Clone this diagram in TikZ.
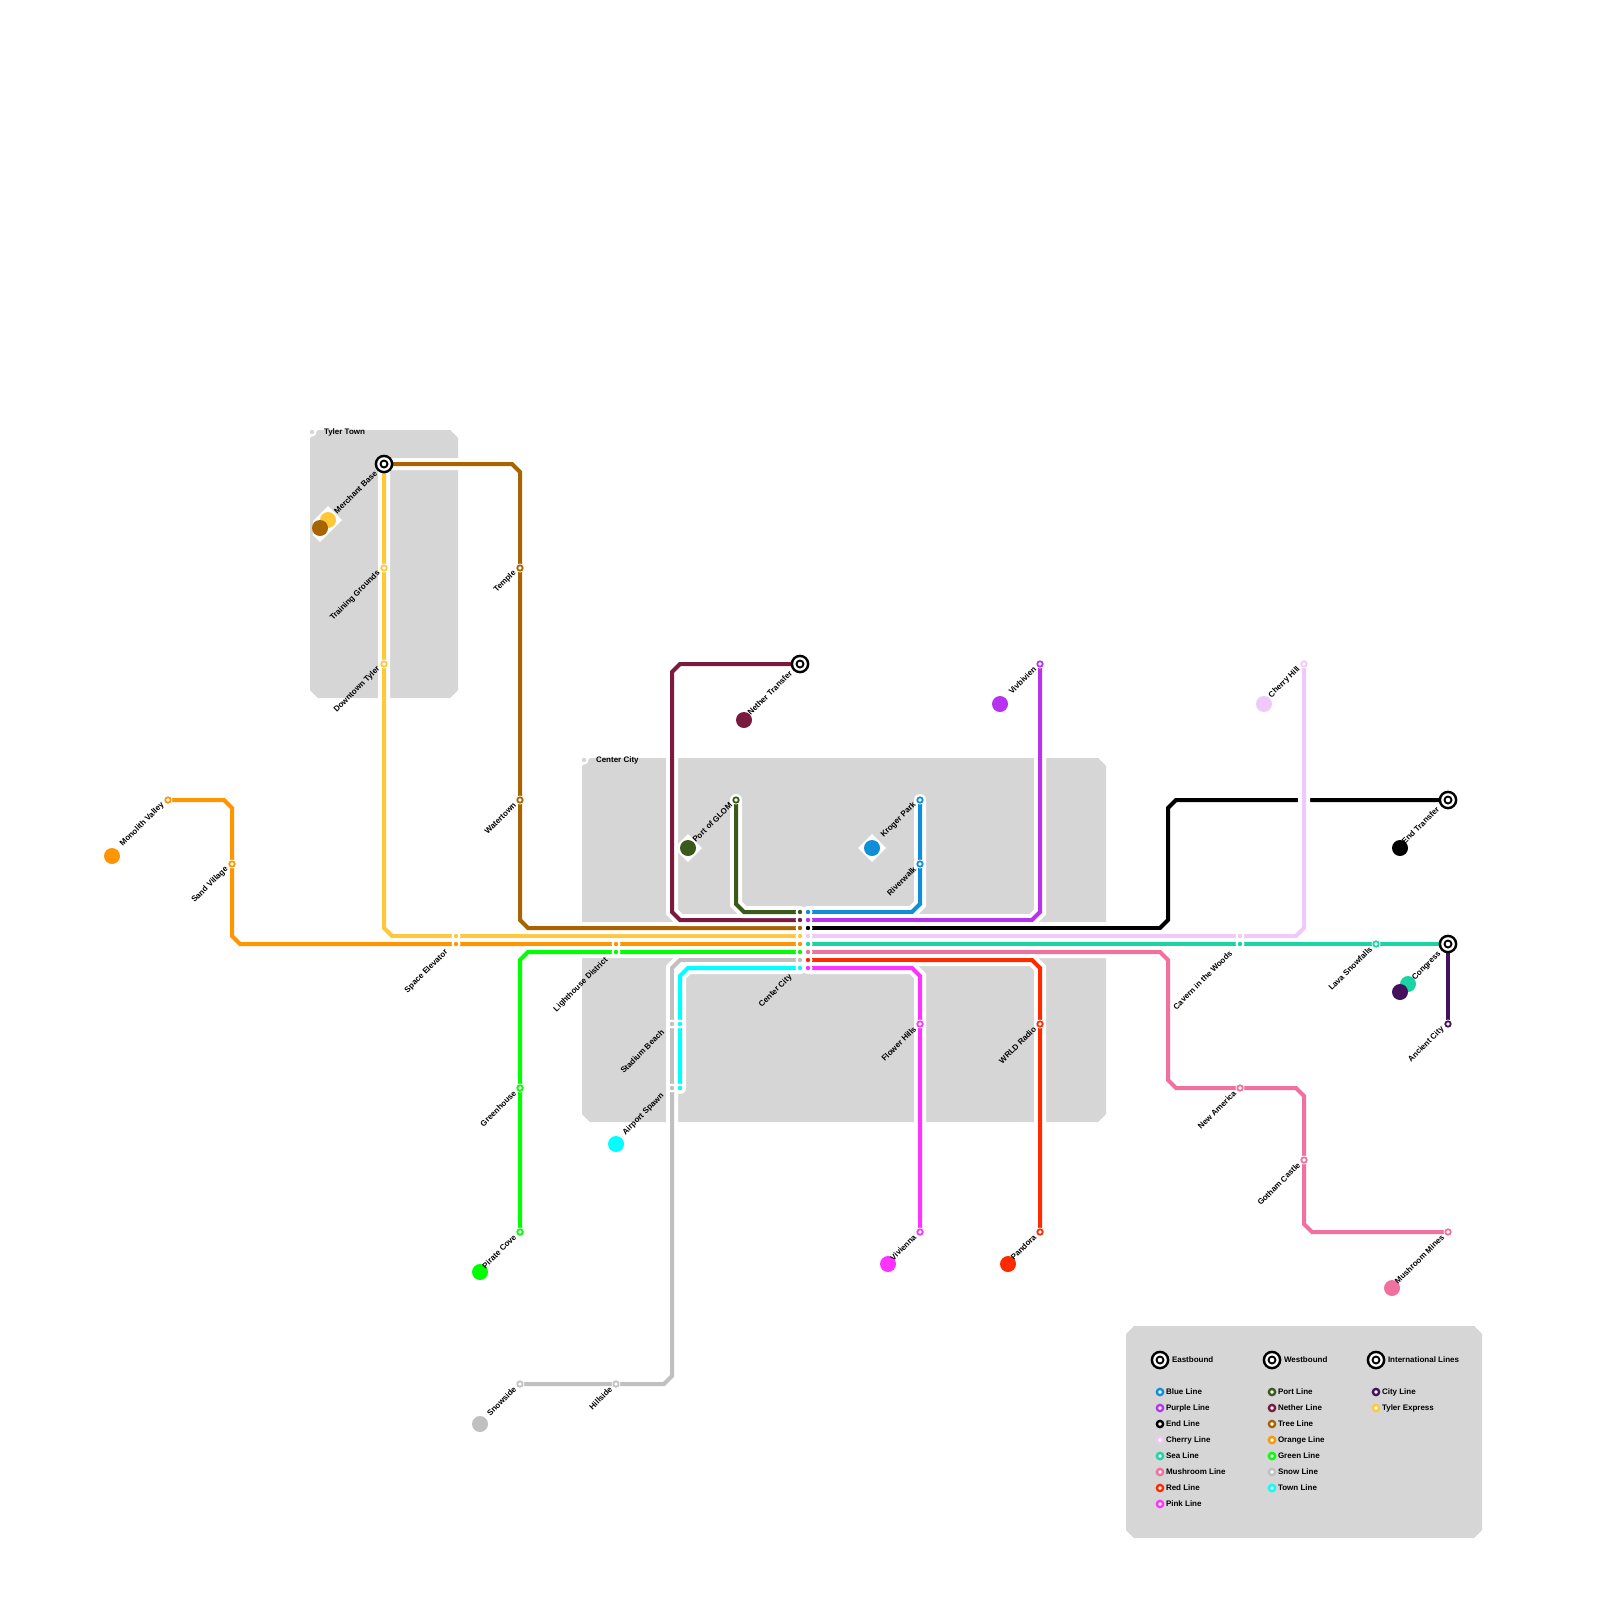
\documentclass[tikz,border=0pt]{standalone}
\usepackage{fontspec}
\setmainfont{Liberation Sans}
\definecolor{cblue}{HTML}{0F8FD8}
\definecolor{cpurple}{HTML}{B833F0}
\definecolor{cend}{HTML}{000000}
\definecolor{ccherry}{HTML}{F0C8FA}
\definecolor{csea}{HTML}{1AD4A4}
\definecolor{cmush}{HTML}{F070A0}
\definecolor{cred}{HTML}{FF2A00}
\definecolor{cpink}{HTML}{FF33FF}
\definecolor{cport}{HTML}{3A5A1C}
\definecolor{cnether}{HTML}{7A1A3E}
\definecolor{ctree}{HTML}{A86400}
\definecolor{ctyler}{HTML}{FFC83A}
\definecolor{corange}{HTML}{FF9500}
\definecolor{cgreen}{HTML}{00FF00}
\definecolor{csnow}{HTML}{C0C0C0}
\definecolor{ctown}{HTML}{00FFFF}
\definecolor{ccity}{HTML}{45115C}
\definecolor{cblock}{HTML}{D6D6D6}
\tikzset{
  block/.style={fill=cblock,draw=none},
  casing/.style={draw=white,line width=12pt,line cap=round,line join=miter},
  metro/.style={draw=#1,line width=4pt,line join=miter},
  halo/.style={circle,fill=white,draw=none,minimum size=9pt,inner sep=0pt,outer sep=0pt},
  ring/.style={circle,fill=white,draw=#1,line width=1.8pt,minimum size=5.4pt,inner sep=0pt,outer sep=0pt},
  core/.style={circle,fill=#1,draw=none,minimum size=4.4pt,inner sep=0pt,outer sep=0pt},
  bigdot/.style={circle,fill=#1,draw=none,minimum size=16pt,inner sep=0pt,outer sep=0pt},
  gem/.style={fill=white,draw=none},
  lab/.style={font=\fontsize{8}{9.6}\selectfont\bfseries,inner sep=0pt,outer sep=0pt,text=black},
  slab/.style={lab,rotate=45,anchor=east},
  legring/.style={circle,fill=white,draw=#1,line width=2.4pt,minimum size=6.2pt,inner sep=0pt,outer sep=0pt},
}
\newcommand{\metroline}[2]{\draw[casing] #2; \draw[metro=#1] #2;}
\newcommand{\stnring}[2]{\node[halo] (h-#1) at (#1) {}; \node[ring=#2] (st-#1) at (#1) {};}
\newcommand{\stncore}[2]{\node[halo] (h-#1) at (#1) {}; \node[core=#2] (st-#1) at (#1) {};}
\newcommand{\bighub}[2]{%
  \node[circle,fill=black,minimum size=18.7pt,inner sep=0pt,outer sep=0pt] (#1) at (#2) {};
  \node[circle,fill=white,minimum size=13.6pt,inner sep=0pt,outer sep=0pt] (#1-a) at (#2) {};
  \node[circle,fill=black,minimum size=9pt,inner sep=0pt,outer sep=0pt] (#1-b) at (#2) {};
  \node[circle,fill=white,minimum size=4.6pt,inner sep=0pt,outer sep=0pt] (#1-c) at (#2) {};}
\newcommand{\slabel}[4]{\node[slab] (lab-#1) at ($(#1)+(#2-2.3,#3)$) {#4};}
\newcommand{\legitem}[4]{\node[legring=#2] (lg-#1) at (#3) {}; \node[lab,anchor=west] (lt-#1) at ($(#3)+(6,0)$) {#4};}
\usetikzlibrary{calc}
\begin{document}
\begin{tikzpicture}[x=1pt,y=-1pt]
\useasboundingbox (0,0) rectangle (1600,1600);
\fill[white] (0,0) rectangle (1600,1600);
% districts
\fill[block] (318,430) -- (450,430) -- (458,438) -- (458,690) -- (450,698) -- (318,698) -- (310,690) -- (310,438) -- cycle;
\fill[block] (590,758) -- (1098,758) -- (1106,766) -- (1106,1114) -- (1098,1122) -- (590,1122) -- (582,1114) -- (582,766) -- cycle;
\fill[block] (1134,1326) -- (1474,1326) -- (1482,1334) -- (1482,1530) -- (1474,1538) -- (1134,1538) -- (1126,1530) -- (1126,1334) -- cycle;
% coordinates of the stations
\coordinate (merchant) at (384,464);
\coordinate (training) at (384,568);
\coordinate (downtown) at (384,664);
\coordinate (temple) at (520,568);
\coordinate (watertown) at (520,800);
\coordinate (monolith) at (168,800);
\coordinate (sand) at (232,864);
\coordinate (spaceT) at (456,936);
\coordinate (spaceO) at (456,944);
\coordinate (lightO) at (616,944);
\coordinate (lightG) at (616,952);
\coordinate (greenhouse) at (520,1088);
\coordinate (pirate) at (520,1232);
\coordinate (snowside) at (520,1384);
\coordinate (hillside) at (616,1384);
\coordinate (stadS) at (672,1024);
\coordinate (stadT) at (680,1024);
\coordinate (airS) at (672,1088);
\coordinate (airT) at (680,1088);
\coordinate (nether) at (800,664);
\coordinate (port) at (736,800);
\coordinate (kroger) at (920,800);
\coordinate (river) at (920,864);
\coordinate (viv) at (1040,664);
\coordinate (endhub) at (1448,800);
\coordinate (cherry) at (1304,664);
\coordinate (cavC) at (1240,936);
\coordinate (cavS) at (1240,944);
\coordinate (lava) at (1376,944);
\coordinate (congress) at (1448,944);
\coordinate (ancient) at (1448,1024);
\coordinate (america) at (1240,1088);
\coordinate (gotham) at (1304,1160);
\coordinate (mines) at (1448,1232);
\coordinate (flower) at (920,1024);
\coordinate (vienna) at (920,1232);
\coordinate (wrld) at (1040,1024);
\coordinate (pandora) at (1040,1232);
\foreach \i/\y in {1/912,2/920,3/928,4/936,5/944,6/952,7/960,8/968}{
  \coordinate (cl\i) at (800,\y);
  \coordinate (cr\i) at (808,\y);
}
\coordinate (tylertown) at (312,432);
\coordinate (centertown) at (584,760);
% lines
\metroline{ctyler}{(merchant) -- (384,928) -- (392,936) -- (cl4)}
\metroline{ctree}{(merchant) -- (512,464) -- (520,472) -- (520,920) -- (528,928) -- (cl3)}
\metroline{corange}{(monolith) -- (224,800) -- (232,808) -- (232,936) -- (240,944) -- (cl5)}
\metroline{cgreen}{(pirate) -- (520,960) -- (528,952) -- (cl6)}
\metroline{csnow}{(snowside) -- (664,1384) -- (672,1376) -- (672,968) -- (680,960) -- (cl7)}
\metroline{ctown}{(airT) -- (680,976) -- (688,968) -- (cl8)}
\metroline{cnether}{(nether) -- (680,664) -- (672,672) -- (672,912) -- (680,920) -- (cl2)}
\metroline{cport}{(port) -- (736,904) -- (744,912) -- (cl1)}
\metroline{cblue}{(kroger) -- (920,904) -- (912,912) -- (cr1)}
\metroline{cpurple}{(viv) -- (1040,912) -- (1032,920) -- (cr2)}
\metroline{cend}{(endhub) -- (1176,800) -- (1168,808) -- (1168,920) -- (1160,928) -- (cr3)}
\metroline{ccherry}{(cherry) -- (1304,928) -- (1296,936) -- (cr4)}
\metroline{csea}{(cr5) -- (congress)}
\metroline{ccity}{(congress) -- (ancient)}
\metroline{cmush}{(cr6) -- (1160,952) -- (1168,960) -- (1168,1080) -- (1176,1088) -- (1296,1088) -- (1304,1096) -- (1304,1224) -- (1312,1232) -- (mines)}
\metroline{cred}{(cr7) -- (1032,960) -- (1040,968) -- (pandora)}
\metroline{cpink}{(cr8) -- (912,968) -- (920,976) -- (vienna)}
% white markers behind the name discs
\fill[gem] (328,506) -- (342,520) -- (320,542) -- (313,535) -- (313,521) -- cycle;
\fill[gem] (688,834) -- (702,848) -- (688,862) -- (674,848) -- cycle;
\fill[gem] (872,834) -- (886,848) -- (872,862) -- (858,848) -- cycle;
% name discs
\node[bigdot=ctyler] (dTyler) at (328,520) {};
\node[bigdot=ctree] (dTree) at (320,528) {};
\node[bigdot=corange] (dOrange) at (112,856) {};
\node[bigdot=cgreen] (dGreen) at (480,1272) {};
\node[bigdot=csnow] (dSnow) at (480,1424) {};
\node[bigdot=ctown] (dTown) at (616,1144) {};
\node[bigdot=cnether] (dNether) at (744,720) {};
\node[bigdot=cport] (dPort) at (688,848) {};
\node[bigdot=cblue] (dBlue) at (872,848) {};
\node[bigdot=cpurple] (dPurple) at (1000,704) {};
\node[bigdot=ccherry] (dCherry) at (1264,704) {};
\node[bigdot=cend] (dEnd) at (1400,848) {};
\node[bigdot=csea] (dSea) at (1408,984) {};
\node[bigdot=ccity] (dCity) at (1400,992) {};
\node[bigdot=cmush] (dMush) at (1392,1288) {};
\node[bigdot=cred] (dRed) at (1008,1264) {};
\node[bigdot=cpink] (dPink) at (888,1264) {};
% stations
\stnring{training}{ctyler}
\stnring{downtown}{ctyler}
\stnring{temple}{ctree}
\stnring{watertown}{ctree}
\stnring{monolith}{corange}
\stnring{sand}{corange}
\stnring{greenhouse}{cgreen}
\stnring{pirate}{cgreen}
\stnring{snowside}{csnow}
\stnring{hillside}{csnow}
\stnring{port}{cport}
\stnring{kroger}{cblue}
\stnring{river}{cblue}
\stnring{viv}{cpurple}
\stnring{cherry}{ccherry}
\stnring{lava}{csea}
\stnring{ancient}{ccity}
\stnring{america}{cmush}
\stnring{gotham}{cmush}
\stnring{mines}{cmush}
\stnring{flower}{cpink}
\stnring{vienna}{cpink}
\stnring{wrld}{cred}
\stnring{pandora}{cred}
\stncore{spaceT}{ctyler}
\stncore{spaceO}{corange}
\stncore{lightO}{corange}
\stncore{lightG}{cgreen}
\stncore{stadS}{csnow}
\stncore{stadT}{ctown}
\stncore{airS}{csnow}
\stncore{airT}{ctown}
\stncore{cavC}{ccherry}
\stncore{cavS}{csea}
\stncore{cl1}{cport}
\stncore{cl2}{cnether}
\stncore{cl3}{ctree}
\stncore{cl4}{ctyler}
\stncore{cl5}{corange}
\stncore{cl6}{cgreen}
\stncore{cl7}{csnow}
\stncore{cl8}{ctown}
\stncore{cr1}{cblue}
\stncore{cr2}{cpurple}
\stncore{cr3}{cend}
\stncore{cr4}{ccherry}
\stncore{cr5}{csea}
\stncore{cr6}{cmush}
\stncore{cr7}{cred}
\stncore{cr8}{cpink}
\stncore{tylertown}{cblock}
\stncore{centertown}{cblock}
\bighub{hubMerchant}{merchant}
\bighub{hubNether}{nether}
\bighub{hubEnd}{endhub}
\bighub{hubCongress}{congress}
% labels
\node[lab,anchor=west] (lab-tylertown) at (324,432) {Tyler Town};
\node[lab,anchor=west] (lab-centertown) at (596,760) {Center City};
\slabel{merchant}{-6}{8}{Merchant Base}
\slabel{training}{-3}{4}{Training Grounds}
\slabel{downtown}{-3}{4}{Downtown Tyler}
\slabel{temple}{-3}{4}{Temple}
\slabel{watertown}{-3}{4}{Watertown}
\slabel{monolith}{-3}{4}{Monolith Valley}
\slabel{sand}{-3}{4}{Sand Village}
\slabel{spaceO}{-7}{7}{Space Elevator}
\slabel{lightG}{-7}{7}{Lighthouse District}
\slabel{greenhouse}{-3}{4}{Greenhouse}
\slabel{pirate}{-3}{4}{Pirate Cove}
\slabel{snowside}{-3}{4}{Snowside}
\slabel{hillside}{-3}{4}{Hillside}
\slabel{stadS}{-7}{7}{Stadium Beach}
\slabel{airS}{-7}{7}{Airport Spawn}
\slabel{nether}{-7}{8}{Nether Transfer}
\slabel{port}{-3}{4}{Port of GLOM}
\slabel{kroger}{-3}{4}{Kroger Park}
\slabel{river}{-3}{4}{Riverwalk}
\slabel{viv}{-3}{4}{Vivbivien}
\slabel{cherry}{-3}{4}{Cherry Hill}
\slabel{endhub}{-8}{8}{End Transfer}
\slabel{cavS}{-7}{8}{Cavern in the Woods}
\slabel{lava}{-3}{4}{Lava Snowfalls}
\slabel{congress}{-6}{9}{Congress}
\slabel{ancient}{-3}{4}{Ancient City}
\slabel{america}{-3}{4}{New America}
\slabel{gotham}{-3}{4}{Gotham Castle}
\slabel{mines}{-3}{4}{Mushroom Mines}
\slabel{flower}{-3}{4}{Flower Hills}
\slabel{vienna}{-3}{4}{Vivienna}
\slabel{wrld}{-3}{4}{WRLD Radio}
\slabel{pandora}{-3}{4}{Pandora}
\slabel{cl8}{-7}{8}{Center City}
% legend
\coordinate (legE) at (1160,1360);
\coordinate (legW) at (1272,1360);
\coordinate (legI) at (1376,1360);
\bighub{hubE}{legE}
\bighub{hubW}{legW}
\bighub{hubI}{legI}
\node[lab,anchor=west] (tE) at (1172,1360) {Eastbound};
\node[lab,anchor=west] (tW) at (1284,1360) {Westbound};
\node[lab,anchor=west] (tI) at (1388,1360) {International Lines};
\legitem{blue}{cblue}{1160,1392}{Blue Line}
\legitem{purple}{cpurple}{1160,1408}{Purple Line}
\legitem{end}{cend}{1160,1424}{End Line}
\legitem{cherry}{ccherry}{1160,1440}{Cherry Line}
\legitem{sea}{csea}{1160,1456}{Sea Line}
\legitem{mush}{cmush}{1160,1472}{Mushroom Line}
\legitem{red}{cred}{1160,1488}{Red Line}
\legitem{pink}{cpink}{1160,1504}{Pink Line}
\legitem{port}{cport}{1272,1392}{Port Line}
\legitem{nether}{cnether}{1272,1408}{Nether Line}
\legitem{tree}{ctree}{1272,1424}{Tree Line}
\legitem{orange}{corange}{1272,1440}{Orange Line}
\legitem{green}{cgreen}{1272,1456}{Green Line}
\legitem{snow}{csnow}{1272,1472}{Snow Line}
\legitem{town}{ctown}{1272,1488}{Town Line}
\legitem{city}{ccity}{1376,1392}{City Line}
\legitem{tyler}{ctyler}{1376,1408}{Tyler Express}
\end{tikzpicture}
\end{document}
